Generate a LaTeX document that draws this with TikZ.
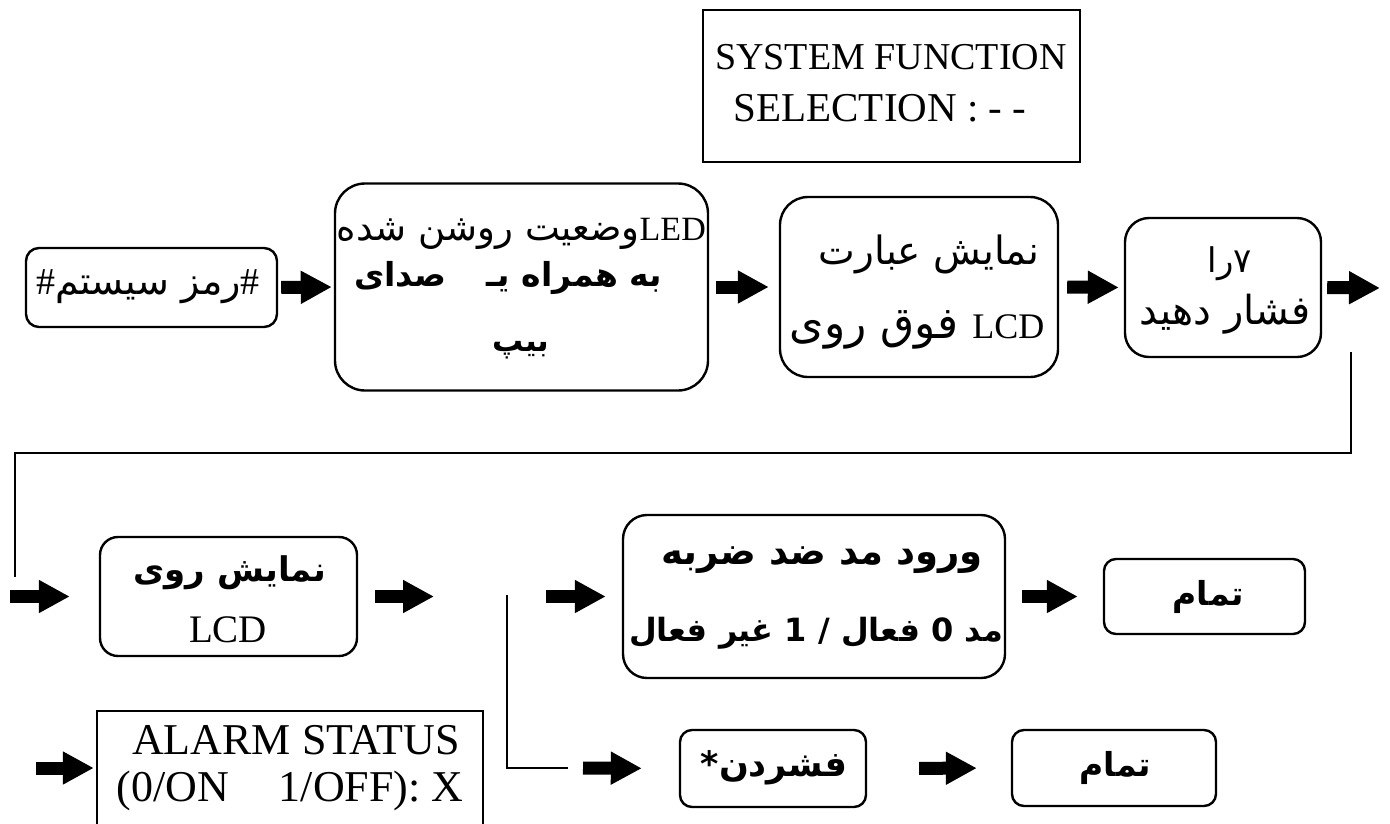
\documentclass[tikz,border=0pt]{standalone}
\usepackage{fontspec}
\setmainfont{Liberation Serif}
\newfontfamily\arfont[Script=Arabic]{DejaVu Sans}
\TeXXeTstate=1
\usetikzlibrary{arrows.meta}
\newcommand{\AR}[1]{{\arfont\beginR #1\endR}}
\newcommand{\fs}[1]{\fontsize{#1}{#1}\selectfont}
\begin{document}
\begin{tikzpicture}[x=1pt,y=-1pt,
  box/.style={draw, line width=2.4pt, rounded corners=#1, inner sep=0pt},
  box/.default=14pt,
  sbox/.style={draw, line width=2.4pt, inner sep=0pt},
  txt/.style={inner sep=0pt, anchor=center},
  fat/.style={line width=13pt, -{Triangle[length=31pt,width=31pt]}},
  thin/.style={line width=2.2pt}]
\useasboundingbox (0,0) rectangle (1390,823);
\clip (0,0) rectangle (1390,823);
% boxes
\node[sbox, minimum width=377pt, minimum height=152pt] (S) at (891.5,86) {};
\node[box=13pt, minimum width=251pt, minimum height=79pt] (A) at (151.5,287.5) {};
\node[box=30pt, minimum width=373pt, minimum height=207pt] (B) at (521.5,287) {};
\node[box=28pt, minimum width=278pt, minimum height=180pt] (C) at (919,287) {};
\node[box=24pt, minimum width=196pt, minimum height=139pt] (D) at (1223,287.5) {};
\node[box=18pt, minimum width=257pt, minimum height=119pt] (E) at (228.5,596.5) {};
\node[box=24pt, minimum width=382pt, minimum height=163pt] (F) at (814,596.5) {};
\node[box=12pt, minimum width=201pt, minimum height=75pt] (G) at (1204.5,596.5) {};
\node[sbox, minimum width=386pt, minimum height=140pt] (H) at (290,781) {};
\node[box=12pt, minimum width=186pt, minimum height=77pt] (I) at (773,768.5) {};
\node[box=12pt, minimum width=204pt, minimum height=76pt] (J) at (1114,768) {};
% texts
\node[txt] (S1) at (891,57) {\fs{38}SYSTEM FUNCTION};
\node[txt] (S2) at (880,108) {\fs{41}SELECTION : - -};
\node[txt] (At) at (148,287) {\fs{38}\#\AR{رمز سیستم}\#};
\node[txt, anchor=east] (B1) at (706,234) {\fs{37}\AR{وضعیت روشن شده}{\fs{34}LED}};
\node[txt] (B2) at (508,278) {\fs{33}\bfseries\AR{به همراه یـ\hspace{40pt}صدای}};
\node[txt] (B3) at (521,350) {\fs{31}\bfseries\AR{بیپ}};
\node[txt] (C1) at (929,254) {\fs{39}\AR{نمایش عبارت}};
\node[txt] (C2) at (917,330) {\fs{44}\AR{فوق روی}\hspace{14pt}{\fs{36}LCD}};
\node[txt] (D1) at (1230,264) {\fs{34}\AR{۷را}};
\node[txt] (D2) at (1225,314) {\fs{40}\AR{فشار دهید}};
\node[txt] (E1) at (230,573) {\fs{34}\bfseries\AR{نمایش روی}};
\node[txt] (E2) at (228,630) {\fs{39}LCD};
\node[txt] (F1) at (822,560) {\fs{37}\bfseries\AR{ورود مد ضد ضربه}};
\node[txt] (F2) at (816,633) {\fs{32}\bfseries\AR{مد 0 فعال / 1 غیر فعال}};
\node[txt] (Gt) at (1208,597) {\fs{33}\bfseries\AR{تمام}};
\node[txt] (It) at (774,768) {\fs{35}\bfseries\AR{فشردن*}};
\node[txt] (Jt) at (1115,768) {\fs{33}\bfseries\AR{تمام}};
\node[txt] (H1) at (296,740) {\fs{44}ALARM STATUS};
\node[txt] (H2) at (290,791) {\fs{44}(0/ON\hspace{50pt}1/OFF): X};
% free ends
\coordinate (e4) at (1380,288);
\coordinate (t1) at (1351,352);
\coordinate (k1) at (1351,453);
\coordinate (k2) at (15,453);
\coordinate (l1) at (15,577);
\coordinate (s5) at (10,596.5);
\coordinate (e6) at (434,596.5);
\coordinate (m1) at (507,595);
\coordinate (m2) at (507,768);
\coordinate (m3) at (568,768);
\coordinate (s7) at (546,596.5);
\coordinate (s9) at (36,768);
\coordinate (s10) at (583,768);
% arrows
\draw[fat, shorten <=3pt, shorten >=2pt] (A.east) -- (B.west);
\draw[fat, shorten <=7pt, shorten >=10pt] (B.east) -- (C.west);
\draw[fat, shorten <=8pt, shorten >=5pt] (C.east) -- (D.west);
\draw[fat, shorten <=5pt] (D.east) -- (e4);
\draw[fat, shorten >=29pt] (s5) -- (E.west);
\draw[fat, shorten <=17pt] (E.east) -- (e6);
\draw[fat, shorten >=16pt] (s7) -- (F.west);
\draw[fat, shorten <=16pt, shorten >=25pt] (F.east) -- (G.west);
\draw[fat, shorten >=2pt] (s9) -- (s9 -| H.west);
\draw[fat, shorten >=37pt] (s10) -- (I.west);
\draw[fat, shorten <=52pt, shorten >=34pt] (I.east) -- (J.west);
% lines
\draw[thin] (t1) -- (k1) -- (k2) -- (l1);
\draw[thin] (m1) -- (m2) -- (m3);
\end{tikzpicture}
\end{document}
